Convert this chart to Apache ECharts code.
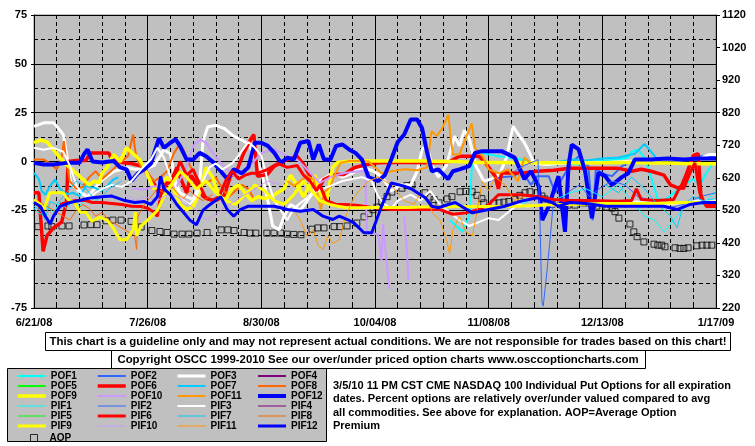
<!DOCTYPE html>
<html><head><meta charset="utf-8">
<script src="https://cdn.jsdelivr.net/npm/echarts@6/dist/echarts.min.js"></script>
<style>html,body{margin:0;padding:0;background:#fff}#c{width:755px;height:446px}</style>
</head><body><div id="c"></div>
<script>
// x values are days since 6/21/08
const xLabels = ['6/21/08','7/26/08','8/30/08','10/04/08','11/08/08','12/13/08','1/17/09'];
const leftTicks = [-75,-50,-25,0,25,50,75];
const rightTicks = [220,320,420,520,620,720,820,920,1020,1120];

const POF1 = [[128,-30],[130,-33],[132,-36],[134,-28],[135,3],[137,5],[139,4],[142,3],[146,2],[150,1],[155,-1],[160,-1.5],[164,-1],[168,-1.5],[172,0],[176,0.5],[180,1],[183,2],[184,5],[186,6],[188,2],[190,-8],[192,-19],[194,-20],[197,-16],[200,-12],[203,-9],[205,-12],[207,-6],[209,-1],[210,-1]];
const POF2 = [[140,-10],[144,-8],[148,-7.5],[150,-4],[153,-12],[155,-7.5],[158.5,-7.5],[160.5,-16],[162.5,-9],[165.6,-0.7],[167.7,2.7],[170.7,-2.4],[172,-30],[173,-4],[176,-6.7],[178,-7.5],[181,-2.4],[185,1],[190,0],[195,-1],[200,0.5],[204,2.5],[208,3],[210,3]];
const POF3 = [[0,18],[3,19.8],[6,19.8],[8,16],[9,13.8],[10.3,1],[11.3,-11],[13.3,-14.3],[16.4,-18],[18.5,-14.3],[20.5,-10],[24.6,-5],[28.7,-3.2],[31,-4],[34,-4],[37,-2],[40,6],[42,4],[43.5,-10],[45,-16],[47,-18],[49,-19.5],[51,-12],[52,10],[53.5,17.8],[56,18.5],[58.5,17],[61.5,13],[64,11],[66,9],[68,3],[70,-5],[72,-20],[73.5,-33],[75.5,-35],[77,-28],[79,-22],[82,-25],[85,-18],[88,-10],[92,-6],[95,-8],[98,-6],[101,-3],[104,-4.5],[107,-7.5],[110,-15],[113,-12],[116,-12],[118,-5],[119.5,6.2],[121,8],[122.5,-2],[124.5,-8],[127,-2],[129.5,13],[131,8],[132.5,16],[134,12],[136,-2],[138.5,-10],[141,-9],[143.5,-6],[145.5,2],[147.5,18],[149.5,13],[151,9.6],[152.5,4.6],[154,-1],[158,-1.5],[162,-1],[166,-0.5],[170,-0.5],[176,-0.5],[182,0],[188,0.5],[194,1],[200,1],[205,1.5],[208,3.6],[210,3.6]];
const POF4 = [];
const POF5 = [];
const POF6 = [[0,-16],[1.5,-16],[2.8,-46],[4,-38],[6,-34],[8.5,-31],[10,-21],[10.5,0],[13,0.5],[16,0.5],[17.3,4.4],[20,4.4],[23,4.4],[24,1],[27,-0.5],[30,-1],[33,-2.4],[34.7,-5.8],[36.5,-10],[37.8,-14],[38.5,-16],[39.5,-11],[42,-11],[44,-3],[45,-8],[47,-16],[48.3,-7],[50.3,-12],[52,-17.7],[54,-19.4],[56,-20],[58.5,-17.7],[60.5,-7.5],[62.6,-4],[64.6,4.4],[66.7,11.3],[67.7,13.8],[68.8,-7.5],[71.8,-6.7],[74,-2.4],[76,-0.7],[78,1],[81,2.7],[83,-1.5],[85,-7.5],[87.2,-15.2],[89.3,-9.2],[92.4,-6.7],[95.4,-6.7],[98.5,-3.2],[102.6,-1.5],[106,-0.7],[110,-0.5],[115,-0.5],[120,-0.7],[125,-0.7],[128,0],[131,2.7],[134,2.7],[137,2.7],[139,-0.7],[142,-7.5],[143,-14],[144,-5.8],[150,-6],[155,-5],[160,-4.5],[165,-3.5],[170,-3.5],[175,-3.5],[180,-3.5],[184,-5],[187,-4],[190,-5],[194,-7],[196,-12],[199,-14],[201,-6],[203,3],[204.5,4],[205.5,-21],[208,-22],[210,-22]];
const POF7 = [[0,-5.8],[1.5,-9],[2.4,-15.2],[3.5,-17],[4.9,-12.6],[6.5,-9.2],[8,-14],[10,-16.9],[12,-16],[14,-17.7],[16,-12.6],[18.8,-13.5],[20.5,-15.2],[22.5,-12.6],[24.4,-9.2],[26,-8],[27,'-'],[158,-0.5],[162,0],[166,1],[170,0.5],[175,1.5],[180,2],[185,4],[188,9],[190,5],[192,1]];
const POF8 = [[0,1],[3,1],[5,-1],[7,-4],[8.5,2],[9.2,10.4],[9.8,2],[11,-10],[13,-14],[15,-13],[17,-8],[19,-5],[21,-9],[23,-6],[25,-3],[27,0],[29,3],[30.5,13.8],[31.5,2],[33,-3],[35,-6],[37,-10],[39,-8],[41,-5],[43,4],[44.5,8],[46,6],[48,-2],[50,-8],[52,-12],[54,-10],[56,-8],[58,-14],[60,-18],[62,-15],[64,-12],[66,-14],[68,-20]];
const POF9 = [[0,9.7],[2,11],[4,10],[5,8],[6,6],[8,2],[9.5,-1],[11,-3],[13,-6],[15,-9],[17,-12],[18.5,-10],[20,-11],[21,-6],[22.5,-3],[24.5,3.6],[26.5,0],[28.5,7],[30.5,4],[32.5,1],[34,-3],[35.5,-9],[37,-14],[39,-12],[41,-8],[43,-14],[45,-22],[47,-24.6],[49,-23],[51,-16],[53,-3],[55,-8],[57,-18],[59,-19.5],[61,-14],[63,-12],[65,-16],[67,-20],[69,-18],[71,-19],[73,-18],[75,-16],[77,-14],[79,-7],[81,-12],[83,-18],[85,-12],[86.5,-7],[88,-16],[90,-21],[92,-3],[93.5,-0.5],[96,0],[100,0.2],[105,0.3],[110,0.3],[115,0.3],[120,0.2],[125,0],[130,0],[135,-0.5],[140,-0.5],[145,-0.5],[150,-0.7],[155,-0.7],[160,-0.7],[165,-0.7],[170,-0.8],[175,-0.7],[180,-0.5],[185,-0.5],[190,-0.8],[195,-0.8],[200,-1],[205,-1.2],[210,-1.2]];
const POF10 = [[30,-14],[34,-14.3],[37,-12.6],[41,-14.3],[44,-12.6],[47,-2.4],[49,7.9],[51,11.3],[53,9.6],[55,4.4],[57.5,-0.7],[61.6,-7.5],[65.6,-4],[70,4.4],[74,6.2],[78,2.7],[81,1],[84,-4],[88,-11],[92,-7.5],[96,-5.8],[100,-5],[102,-5],[102.5,-36],[106,-37.4],[107,-51],[107.5,-32],[108.5,-50],[109.5,-65.5],[110,'-'],[114,-28],[114.8,-45],[115.3,-61]];
const POF11 = [[78,-10],[80,-12.6],[82,-10],[84,-7.5],[86,-9],[87.2,-16],[88.3,-24.6],[89.3,-16],[91.3,-12.6],[92.4,-7.5],[94.4,-0.7],[97,0.3],[100,0.3],[103,0],[105,-3],[107,-6],[110,-5],[114,-4],[118,-4.5],[121,-3],[122.4,15.5],[124,13],[125.5,16.4],[127.6,24],[128.3,12],[129,3.6],[131,3.6],[133.2,13],[134.8,19.5],[135.8,7],[138.2,2.7],[140,-4],[143,-6],[146,-4],[149,-10],[151,2],[153,-1]];
const POF12 = [[0,-0.7],[3,-1.5],[6,-1.5],[10,-0.7],[14,-0.7],[15.5,4],[16.5,6.2],[18,0],[21,-0.5],[24.5,0.3],[26.5,-3],[28.5,-4],[30,-10],[32,-6],[34,-4],[36,-1],[38.5,12],[40,7],[42,9.6],[43.6,11.3],[45,7.9],[47,1],[49,1],[51,4.4],[53,2.7],[55.4,-0.7],[57.5,-5],[59.5,-9],[61.5,-4],[64,-6],[66,-3],[68,9.6],[70,9.6],[72,8],[74,4.4],[76,-0.7],[78,1.9],[80,1],[82,9.6],[84.5,10.5],[86,1],[87.7,8.7],[89.3,1],[91.3,1],[93,7.9],[95,8.7],[97,6.2],[99,4.4],[101,1],[103,-8],[106,-10],[108,-7],[110,1],[112,10],[114,13.8],[116,21.5],[118,21.5],[119.5,17],[121,5],[122.5,-5],[124.5,-4],[127.5,-9],[129,-5],[131,-4],[134,-2.4],[135.8,4.4],[138,5.3],[144,5.3],[148,2],[151,-9],[153,-5],[155.4,-12.6],[156.5,-30],[158.5,-23],[161.5,-7.5],[163.5,-36],[164.6,-2],[165.6,8.7],[167.7,6.2],[169.7,-5],[171.8,-29],[173.8,-5.8],[175.9,-7.5],[178,-12],[181,-8],[183,-6],[185,1],[190,1],[195,1.5],[200,1],[205,1.5],[210,1.5]];

const PIF1 = [[0,-24],[2,-27],[4,-23],[6,-26],[8,-21],[10,-24],[12,-20],[14,-23],[16,-19],[17,'-'],[150,-22],[155,-18],[160,-20],[165,-16],[170,-14],[175,-18],[180,-12],[185,-22],[188,-28],[191,-30],[194,-36],[197,-30],[200,-24],[203,-20],[206,-22],[210,-15]];
const PIF2 = [[148,-5],[151,-2],[154,0],[155.2,1],[155.8,-31],[156.4,-72],[156.8,-74],[157.9,-57],[158.9,-40],[159.8,-23],[162,-20],[165,-15],[168,-12],[171,-18],[174,-14],[178,-10],[182,-12],[186,-18],[190,-20],[195,-24],[200,-22],[205,-18],[210,-16]];
const PIF3 = [[0,7],[3,6],[6,7],[9,5],[11,-2],[13,-12],[15,-17],[17,-19],[19,-16],[21,-14],[24,-12],[27,-13],[30,-10],[33,-4],[36,1],[38,7],[40,2],[42,-8],[44,-14],[46,-20],[48,-22],[50,-18],[52,-10],[54,-3],[56,-1],[58,-4],[61,-1],[63,3],[66,10],[68,7],[70,3],[72,-10],[74,-20],[76,-25],[78,-30],[80,-24],[83,-20],[86,-16],[89,-14],[92,-12],[95,-10],[98,-9],[101,-8],[104,-10],[106,-18],[108,-22],[110,-24],[112,-20],[116,-17],[119,-20],[122,-15],[125,-22],[128,-26],[131,-30],[134,-33],[137,-31],[140,-29],[143,-30],[146,-26],[149,-22],[152,-23],[156,-22],[160,-22.5],[165,-22],[170,-21.5],[175,-22],[180,-21],[185,-20.5],[190,-21],[195,-22],[200,-21],[205,-20],[210,-20]];
const PIF4 = [];
const PIF5 = [];
const PIF6 = [[8,-22],[10,-21],[13,-20],[16,-20],[18,-21],[21,-21],[24,-21.5],[27,-22],[30,-22.9],[33,-23],[35,-24],[37,-26],[38,-28],[39,-17],[41,-11],[42.5,-11],[45,0],[47,-7],[49,-4],[51,-12],[53,-19],[55,-20],[57,-18],[59,-10],[61,-5],[63,-9],[65,-7],[67,-6],[69,-6],[72,-4],[75,-1],[78,-3],[81,-2],[83,-7],[85,-10],[87,-15],[88,-12],[90,-20],[93,-22],[96,-22],[100,-22.5],[104,-23.5],[110,-24.6],[118,-24.6],[125,-24.6],[129,-27],[133,-26.3],[137,-24.6],[140,-22],[143,-17],[146,-17],[150,-17],[155,-18],[160,-19.5],[165,-20],[170,-20],[180,-20.3],[184,-20],[185.5,-14],[187,-19.5],[192,-20],[197,-19.4],[199,-12.6],[200,-14],[202,-5.8],[203.5,-0.7],[205,-16],[207,-23],[210,-23]];
const PIF7 = [[0,-22.9],[2,-25],[3.4,-29.7],[5,-20.5],[7,-22],[9,-18],[11,-14],[13,-10],[15,-12],[17,-16],[19,-20],[21,-18],[23,-14],[25,-12],[27,-10],[28,'-'],[176,-12],[180,-16],[184,-8],[188,-14],[192,-22],[196,-28],[198,-34],[200,-22],[203,-18],[206,-20],[210,-19]];
const PIF8 = [[0,-20],[3,-22],[6,-25],[9,-28],[11,-30],[13,-25],[15,-22],[17,-24],[19,-28],[21,-26],[23,-30],[25,-32],[27,-34],[29,-36],[31,-38],[31.6,-45],[32,-28],[34,-22],[36,-18],[38,-14],[40,-16],[42,-12],[44,-16],[46,-19],[48,-15],[50,-18],[52,-20],[55,-17]];
const PIF9 = [[0,-19.5],[2,-22],[3,-24.6],[4.9,-16],[7,-16],[9,-16],[10.5,-19.5],[12.5,-21],[14.2,-26],[16,-26],[17.8,-30.6],[20.3,-28.5],[22.5,-30],[24.4,-34],[26.5,-40],[28.5,-40],[30.6,-34.8],[31.2,-26],[31.6,-38],[33,-33],[35,-30],[38,-25],[40,-18],[43,-10],[45,-5],[47,-8],[50,-14],[53,-10],[56,-16],[59,-20],[62,-22],[65,-17],[68,-12],[71,-15],[74,-20],[77,-22],[80,-17],[83,-10],[85,-14],[88,-20],[91,-22],[94,-23],[96,-23.5],[100,-23.7],[105,-23.5],[110,-23.5],[115,-23.5],[120,-23.3],[125,-23.3],[130,-23],[135,-23],[140,-23],[145,-23],[150,-22.8],[155,-22.5],[160,-22],[165,-22],[170,-21.8],[175,-21.5],[180,-21.5],[185,-21.5],[190,-21.5],[195,-21.3],[200,-21],[205,-21],[210,-20.8]];
const PIF10 = [[28,-17],[31,-20],[34,-18],[38,-20],[42,-16],[46,-20],[50,-25],[53,-30],[56,-27],[60,-22],[64,-18],[68,-14],[72,-10],[76,-12]];
const PIF11 = [[80,-25],[82,-30],[84,-38],[86,-35],[87.5,-43],[89,-45],[90.5,-38],[92,-42],[94,-40],[96,-28],[98,-20],[100,-15],[103,-10],[106,-8],[110,-12],[114,-20],[117,-22],[119,-16],[121,-20],[123,-27],[125,-30],[127,-40],[128,-47],[129,-35],[131,-28],[133,-36],[135,-38],[137,-20],[138,-10],[140,-15],[142,-8],[145,-12],[148,-20],[151,-18]];
const PIF12 = [[0,-21],[2,-23],[3.5,-28],[5,-32],[6,-28],[8,-23],[11,-21],[14,-20],[15,-19.5],[18,-18.5],[21,-18],[24,-17.7],[28,-20],[31,-21],[34,-20.5],[36,-22],[38,-18],[39,-7.5],[40,-14],[42,-17],[44,-22],[46,-26],[48,-30],[50,-32.4],[52,-25],[53.5,-22.9],[57.5,-18],[59.5,-24.6],[61.5,-28],[63.5,-24.6],[66,-22.9],[70,-22.9],[74,-22.9],[78,-24.6],[82,-25.5],[86,-24.6],[89,-28],[92,-29.7],[94,-28],[96.5,-29.7],[98.5,-31.4],[101.6,-36.5],[104,-36.5],[107,-23],[110,-11],[114,-12.6],[116.5,-14.3],[120.5,-18.6],[122.5,-22.9],[124.5,-23.7],[127.6,-22],[129.7,-21],[135,-26.3],[140,-24.6],[145,-22.9],[150,-20.3],[155,-18.6],[159.5,-21],[161.5,-22.9],[165,-21],[170,-21.5],[176,-22.9],[185,-22.9],[194,-22.9],[198,-24.6],[202,-22],[206,-21],[210,-21]];

const AOP = [[1.2,470],[4.3,472],[5.5,470],[8.6,472],[10.8,472],[15.4,475],[17.5,476],[19.4,476],[22.2,488],[24.3,490],[26.8,490],[29.9,486],[33,469],[36.3,458],[38.8,455],[41,452],[43.1,447],[45.6,447],[47.7,447],[50.2,450],[53.3,452],[57.6,460],[59.7,460],[61.6,458],[64.7,452],[66.5,450],[68.3,450],[71.7,450],[73.9,450],[76,450],[77.9,447],[80,446],[82.2,445],[85.6,462],[87.4,466],[89.3,466],[92.4,470],[94.2,470],[96.4,472],[99.4,481],[101.6,500],[103.1,510],[104.4,522],[105.6,530],[107.1,546],[108.7,562],[110.2,576],[113.3,588],[114.8,596],[116.4,598],[120.4,574],[121.9,561],[123.2,553],[124.7,543],[127.2,555],[128.7,562],[131.2,577],[133,578],[134.9,577],[136.4,566],[137.9,556],[138.5,543],[141.6,542],[143.2,543],[144.7,545],[146.2,547],[148.1,554],[149.6,566],[151.2,574],[152.7,577],[154.9,574],[156.4,564],[157.3,555],[159.5,539],[162.6,536],[164.4,536],[166.6,536],[169.3,543],[170.9,543],[172.1,538],[173.3,533],[176.4,530],[178,527],[178.9,516],[180.1,496],[183.5,478],[184.7,454],[185.7,439],[187.8,423],[190.9,416],[192.1,413],[193.3,413],[194.3,408],[197.4,405],[198.9,403],[200.1,403],[201.4,405],[204.1,411],[205.7,413],[207.2,413],[208.7,413]];

const disclaimer = 'This chart is a guideline only and may not represent actual conditions. We are not responsible for trades based on this chart!';
const copyright = 'Copyright OSCC 1999-2010 See our over/under priced option charts www.osccoptioncharts.com';
const note = ['3/5/10 11 PM CST CME NASDAQ 100 Individual Put Options for all expiration','dates. Percent options are relatively over/under valued compared to avg','all commodities. See above for explanation. AOP=Average Option','Premium'];

// styles (colour, width)
const STYLE = {
  POF1:['#00FFFF',2], POF2:['#3366FF',2], POF3:['#FFFFFF',3], POF4:['#800080',2],
  POF5:['#00FF00',2], POF6:['#FF0000',3.5], POF7:['#00CCFF',2], POF8:['#FF6600',2],
  POF9:['#FFFF00',3.5], POF10:['#CC99FF',2], POF11:['#FF9900',2], POF12:['#0000FF',4],
  PIF1:['#00FFFF',1], PIF2:['#3366FF',1], PIF3:['#FFFFFF',2], PIF4:['#800080',1],
  PIF5:['#00FF00',1], PIF6:['#FF0000',3], PIF7:['#00CCFF',1], PIF8:['#FF6600',1],
  PIF9:['#FFFF00',3], PIF10:['#CC99FF',1], PIF11:['#FF9900',1], PIF12:['#0000FF',3]
};
const LINES = {POF1,POF2,POF3,POF4,POF5,POF6,POF7,POF8,POF9,POF10,POF11,POF12,
               PIF1,PIF2,PIF3,PIF4,PIF5,PIF6,PIF7,PIF8,PIF9,PIF10,PIF11,PIF12};

const FONT = 'Liberation Sans, Arial, sans-serif';
const series = Object.keys(LINES).map(n => ({
  name: n, type: 'line', xAxisIndex: 0, yAxisIndex: 0, symbol: 'none',
  data: LINES[n], connectNulls: false, silent: true,
  lineStyle: {color: STYLE[n][0], width: STYLE[n][1]},
  itemStyle: {color: STYLE[n][0]}
}));
series.push({
  name: 'AOP', type: 'scatter', xAxisIndex: 0, yAxisIndex: 2, symbol: 'rect', symbolSize: 6,
  data: AOP, silent: true,
  itemStyle: {color: 'none', borderColor: '#000', borderWidth: 1}
});

const legendText = {fontFamily: FONT, fontSize: 10, fontWeight: 'bold', color: '#000', lineHeight: 10};
function col(left, names) {
  return {orient: 'vertical', left: left, top: 371, itemWidth: 28, itemHeight: 10, itemGap: 0,
    selectedMode: false, data: names, textStyle: legendText, padding: 0,
    itemStyle: {opacity: 0}, lineStyle: {width: 'inherit'}};
}

const chart = echarts.init(document.getElementById('c'), null, {renderer: 'canvas'});
chart.setOption({
  animation: false,
  backgroundColor: '#fff',
  grid: {left: 34, right: 39, top: 15, bottom: 138, show: true, backgroundColor: '#C0C0C0',
         borderColor: '#808080', borderWidth: 1, outerBoundsMode: 'none'},
  xAxis: [
    {type: 'value', min: 0, max: 210, interval: 7, position: 'bottom',
     axisLine: {show: true, onZero: false, lineStyle: {color: '#000', width: 1}},
     axisTick: {show: true, inside: true, length: 4, lineStyle: {color: '#000'}},
     axisLabel: {show: false},
     splitLine: {show: true, lineStyle: {color: '#000', width: 1, type: [4, 3]}}},
    {type: 'value', min: 0, max: 210, interval: 35, position: 'bottom',
     axisLine: {show: false, onZero: false}, axisTick: {show: false},
     axisLabel: {show: true, margin: 9, color: '#000', fontFamily: FONT, fontSize: 11, fontWeight: 'bold',
                 formatter: v => xLabels[Math.round(v / 35)]},
     splitLine: {show: true, lineStyle: {color: '#000', width: 1}}}
  ],
  yAxis: [
    {type: 'value', min: -75, max: 75, interval: 12.5, position: 'left',
     axisLine: {show: true, onZero: false, lineStyle: {color: '#000', width: 1}},
     axisTick: {show: false}, axisLabel: {show: false},
     splitLine: {show: true, lineStyle: {color: '#000', width: 1, type: [4, 3]}}},
    {type: 'value', min: leftTicks[0], max: leftTicks[leftTicks.length - 1], interval: 25, position: 'left',
     axisLine: {show: false, onZero: false}, axisTick: {show: true, length: 3, lineStyle: {color: '#000'}},
     axisLabel: {show: true, margin: 7, color: '#000', fontFamily: FONT, fontSize: 11, fontWeight: 'bold',
                 formatter: v => String(v)},
     splitLine: {show: true, lineStyle: {color: '#000', width: 1}}},
    {type: 'value', min: rightTicks[0], max: rightTicks[rightTicks.length - 1], interval: 100, position: 'right',
     axisLine: {show: true, onZero: false, lineStyle: {color: '#000', width: 1}},
     axisTick: {show: true, length: 4, lineStyle: {color: '#000'}},
     axisLabel: {show: true, margin: 6, color: '#000', fontFamily: FONT, fontSize: 11, fontWeight: 'bold',
                 formatter: v => String(v)},
     splitLine: {show: false}}
  ],
  legend: [
    col(16, ['POF1','POF5','POF9','PIF1','PIF5','PIF9']),
    col(96, ['POF2','POF6','POF10','PIF2','PIF6','PIF10']),
    col(176, ['POF3','POF7','POF11','PIF3','PIF7','PIF11']),
    col(256, ['POF4','POF8','POF12','PIF4','PIF8','PIF12']),
    {orient: 'vertical', left: 28, top: 432, itemWidth: 7, itemHeight: 7, itemGap: 0, selectedMode: false,
     data: ['AOP'], padding: 0, itemStyle: {color: 'none', borderColor: '#000', borderWidth: 1},
     textStyle: Object.assign({}, legendText, {padding: [0, 0, 0, 7]})}
  ],
  graphic: [
    {type: 'rect', z: 0, shape: {x: 7.5, y: 368.5, width: 319, height: 73}, style: {fill: '#C0C0C0', stroke: '#000', lineWidth: 1}},
    {type: 'rect', z: 0, shape: {x: 45.5, y: 332.5, width: 685, height: 18}, style: {fill: '#fff', stroke: '#000', lineWidth: 1}},
    {type: 'text', z: 1, x: 388, y: 342, style: {text: disclaimer, fill: '#000', font: 'bold 11.4px ' + FONT, textAlign: 'center', textVerticalAlign: 'middle'}},
    {type: 'rect', z: 0, shape: {x: 111.5, y: 350.5, width: 534, height: 18}, style: {fill: '#fff', stroke: '#000', lineWidth: 1}},
    {type: 'text', z: 1, x: 378, y: 360, style: {text: copyright, fill: '#000', font: 'bold 11.4px ' + FONT, textAlign: 'center', textVerticalAlign: 'middle'}},
    {type: 'text', z: 1, x: 333, y: 379, style: {text: note.join('\n'), fill: '#000', font: 'bold 11px ' + FONT, lineHeight: 13.5}}
  ],
  series: series
});
</script>
</body></html>
